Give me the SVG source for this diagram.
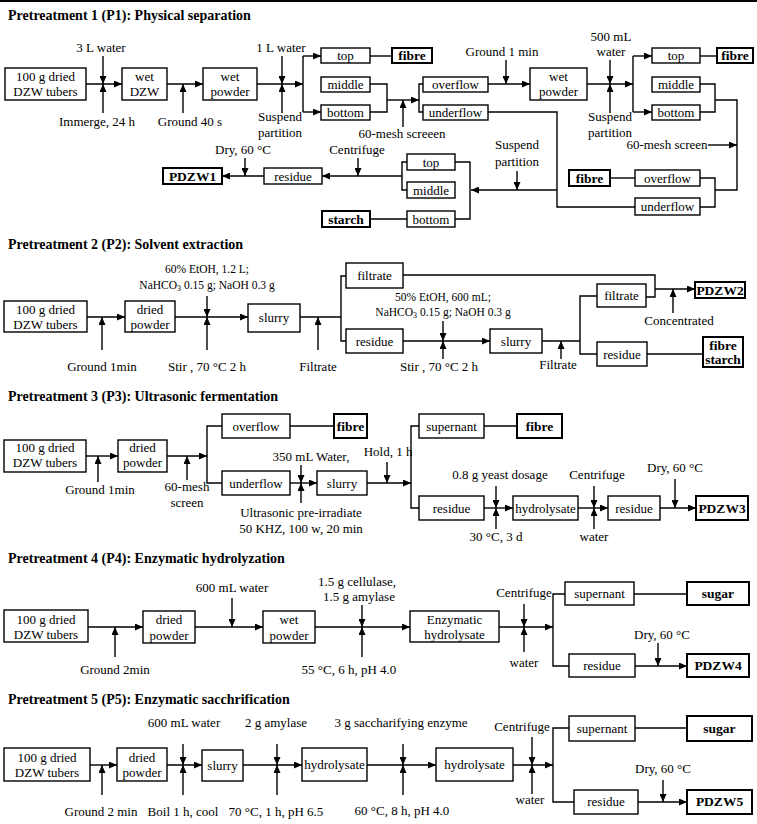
<svg xmlns="http://www.w3.org/2000/svg" width="757" height="824" viewBox="0 0 757 824">
<style>
.b{fill:#fff;stroke:#000;stroke-width:1.4}
.bb{fill:#fff;stroke:#000;stroke-width:2}
text{font-family:"Liberation Serif","Times New Roman",serif;font-size:13px;text-anchor:middle;fill:#000}
.tb{font-weight:bold;font-size:13.5px}
.ts{font-size:11.5px}
.h{font-size:14px;font-weight:bold;text-anchor:start}
.c{fill:none;stroke:#000;stroke-width:1.4}
.a{marker-end:url(#ah)}
</style>
<defs>
<marker id="ah" markerUnits="userSpaceOnUse" markerWidth="8" markerHeight="7" refX="8" refY="3.5" orient="auto">
<path d="M0,0 L8,3.5 L0,7 z" fill="#000"/>
</marker>
</defs>
<rect x="0" y="0" width="757" height="2" fill="#000"/>

<!-- ===== Titles ===== -->
<text class="h" x="8" y="20">Pretreatment 1 (P1): Physical separation</text>
<text class="h" x="8" y="249">Pretreatment 2 (P2): Solvent extraction</text>
<text class="h" x="8" y="401">Pretreatment 3 (P3): Ultrasonic  fermentation</text>
<text class="h" x="8" y="563">Pretreatment 4 (P4): Enzymatic hydrolyzation</text>
<text class="h" x="8" y="704">Pretreatment 5 (P5): Enzymatic  sacchrification</text>

<!-- ===== Connectors ===== -->
<g id="connectors">
<!-- P1 -->
<path class="c a" d="M86,84 H122"/>
<path class="c a" d="M103,56 V84"/>
<path class="c a" d="M103,113 V84"/>
<path class="c a" d="M167,84 H203"/>
<path class="c a" d="M183,113 V84"/>
<path class="c a" d="M257,84 H303"/>
<path class="c a" d="M282,56 V84"/>
<path class="c a" d="M282,113 V84"/>
<path class="c" d="M303,56 V112"/>
<path class="c a" d="M303,56 H321"/>
<path class="c a" d="M303,112 H321"/>
<path class="c" d="M370,56 H392"/>
<path class="c" d="M370,84 H387 V112 H370"/>
<path class="c a" d="M387,100 H419"/>
<path class="c a" d="M403,127 V100"/>
<path class="c" d="M423,84 H419 V112 H423"/>
<path class="c a" d="M488,84 H530"/>
<path class="c a" d="M506,60 V84"/>
<path class="c a" d="M587,84 H633"/>
<path class="c a" d="M610,60 V84"/>
<path class="c a" d="M610,113 V84"/>
<path class="c" d="M633,56 V112"/>
<path class="c a" d="M633,56 H652"/>
<path class="c a" d="M633,112 H652"/>
<path class="c" d="M700,56 H717"/>
<path class="c" d="M700,84 H715 V112 H700"/>
<path class="c" d="M715,100 H737 V190 H715"/>
<path class="c a" d="M708,145 H737"/>
<path class="c" d="M700,178 H715 V207 H700"/>
<path class="c" d="M610,178 H635"/>
<path class="c" d="M488,112 H557 V207 H635"/>
<path class="c a" d="M557,190 H471"/>
<path class="c a" d="M517,171 V190"/>
<path class="c" d="M455,162 H470 V219 H455"/>
<path class="c" d="M407,162 H402 V190 H407"/>
<path class="c a" d="M402,176 H322"/>
<path class="c a" d="M358,158 V176"/>
<path class="c" d="M370,219 H407"/>
<path class="c a" d="M264,176 H222"/>
<path class="c a" d="M245,158 V176"/>
<!-- P2 -->
<path class="c a" d="M87,317 H125"/>
<path class="c a" d="M102,350 V317"/>
<path class="c a" d="M175,317 H248"/>
<path class="c a" d="M207,296 V317"/>
<path class="c a" d="M207,350 V317"/>
<path class="c" d="M300,317 H341"/>
<path class="c a" d="M318,350 V317"/>
<path class="c" d="M346,276 H341 V341 H346"/>
<path class="c" d="M403,275 H655 V297 H646"/>
<path class="c a" d="M655,289 H695"/>
<path class="c a" d="M673,313 V289"/>
<path class="c a" d="M403,341 H490"/>
<path class="c a" d="M443,321 V341"/>
<path class="c a" d="M443,359 V341"/>
<path class="c" d="M542,341 H580"/>
<path class="c a" d="M561,359 V341"/>
<path class="c" d="M597,296 H580 V354 H597"/>
<path class="c" d="M647,354 H703"/>
<!-- P3 -->
<path class="c a" d="M86,456 H118"/>
<path class="c a" d="M98,482 V456"/>
<path class="c a" d="M167,456 H207"/>
<path class="c a" d="M187,480 V456"/>
<path class="c" d="M222,426 H207 V483 H222"/>
<path class="c" d="M290,426 H334"/>
<path class="c a" d="M290,483 H317"/>
<path class="c a" d="M301,465 V483"/>
<path class="c a" d="M301,503 V483"/>
<path class="c a" d="M367,483 H411"/>
<path class="c a" d="M387,462 V483"/>
<path class="c" d="M419,426 H411 V508 H419"/>
<path class="c" d="M484,426 H517"/>
<path class="c a" d="M484,508 H513"/>
<path class="c a" d="M496,486 V508"/>
<path class="c a" d="M496,529 V508"/>
<path class="c a" d="M578,508 H608"/>
<path class="c a" d="M594,486 V508"/>
<path class="c a" d="M594,529 V508"/>
<path class="c a" d="M660,508 H696"/>
<path class="c a" d="M675,479 V508"/>
<!-- P4 -->
<path class="c a" d="M88,627 H143"/>
<path class="c a" d="M115,657 V627"/>
<path class="c a" d="M195,627 H263"/>
<path class="c a" d="M232,598 V627"/>
<path class="c a" d="M315,627 H410"/>
<path class="c a" d="M362,605 V627"/>
<path class="c a" d="M362,657 V627"/>
<path class="c a" d="M499,627 H553"/>
<path class="c a" d="M524,604 V627"/>
<path class="c a" d="M524,652 V627"/>
<path class="c" d="M565,594 H553 V666 H569"/>
<path class="c" d="M634,594 H687"/>
<path class="c a" d="M635,666 H687"/>
<path class="c a" d="M658,643 V666"/>
<!-- P5 -->
<path class="c a" d="M90,765 H117"/>
<path class="c a" d="M102,795 V765"/>
<path class="c a" d="M167,765 H202"/>
<path class="c a" d="M183,744 V765"/>
<path class="c a" d="M183,795 V765"/>
<path class="c a" d="M243,765 H302"/>
<path class="c a" d="M277,744 V765"/>
<path class="c a" d="M277,795 V765"/>
<path class="c a" d="M367,765 H436"/>
<path class="c a" d="M403,744 V765"/>
<path class="c a" d="M403,795 V765"/>
<path class="c a" d="M513,765 H553"/>
<path class="c a" d="M532,737 V765"/>
<path class="c a" d="M532,794 V765"/>
<path class="c" d="M569,728 H553 V802 H574"/>
<path class="c" d="M635,728 H687"/>
<path class="c a" d="M638,802 H687"/>
<path class="c a" d="M663,780 V802"/>
</g>

<!-- ===== Labels ===== -->
<g id="labels">
<!-- P1 -->
<text x="101" y="52">3 L water</text>
<text x="97" y="126">Immerge, 24 h</text>
<text x="190" y="126">Ground 40 s</text>
<text x="281" y="52">1 L water</text>
<text x="280" y="121">Suspend</text>
<text x="280" y="137">partition</text>
<text x="402" y="138">60-mesh screeen</text>
<text x="502" y="56">Ground 1 min</text>
<text x="611" y="41">500 mL</text>
<text x="611" y="56">water</text>
<text x="610" y="121">Suspend</text>
<text x="610" y="137">partition</text>
<text x="667" y="149">60-mesh screen</text>
<text x="517" y="149">Suspend</text>
<text x="517" y="166">partition</text>
<text x="357" y="154">Centrifuge</text>
<text x="243" y="154">Dry, 60 °C</text>
<!-- P2 -->
<text x="102" y="371">Ground 1min</text>
<text class="ts" x="207" y="273">60% EtOH, 1.2  L;</text>
<text class="ts" x="207" y="289">NaHCO<tspan font-size="8" dy="2">3</tspan><tspan dy="-2"> 0.15 g; NaOH 0.3 g</tspan></text>
<text x="207" y="371">Stir , 70 °C  2 h</text>
<text x="318" y="371">Filtrate</text>
<text class="ts" x="443" y="301">50% EtOH, 600 mL;</text>
<text class="ts" x="443" y="316">NaHCO<tspan font-size="8" dy="2">3</tspan><tspan dy="-2"> 0.15 g; NaOH 0.3 g</tspan></text>
<text x="439" y="371">Stir , 70 °C  2 h</text>
<text x="558" y="369">Filtrate</text>
<text x="679" y="325">Concentrated</text>
<!-- P3 -->
<text x="100" y="494">Ground 1min</text>
<text x="187" y="491">60-mesh</text>
<text x="187" y="507">screen</text>
<text x="311" y="461">350 mL Water,</text>
<text x="301" y="517">Ultrasonic pre-irradiate</text>
<text x="301" y="533">50 KHZ, 100 w, 20 min</text>
<text x="388" y="456">Hold, 1 h</text>
<text x="500" y="479">0.8 g yeast dosage</text>
<text x="496" y="541">30 °C, 3 d</text>
<text x="597" y="479">Centrifuge</text>
<text x="594" y="541">water</text>
<text x="675" y="472">Dry, 60 °C</text>
<!-- P4 -->
<text x="115" y="674">Ground 2min</text>
<text x="232" y="592">600 mL water</text>
<text x="357" y="586">1.5 g cellulase,</text>
<text x="359" y="601">1.5 g amylase</text>
<text x="349" y="674">55 °C, 6 h, pH 4.0</text>
<text x="524" y="597">Centrifuge</text>
<text x="524" y="667">water</text>
<text x="662" y="639">Dry, 60 °C</text>
<!-- P5 -->
<text x="101" y="816">Ground 2 min</text>
<text x="184" y="727">600 mL water</text>
<text x="183" y="816">Boil 1 h, cool</text>
<text x="276" y="727">2 g amylase</text>
<text x="276" y="816">70 °C, 1 h, pH 6.5</text>
<text x="401" y="727">3 g saccharifying enzyme</text>
<text x="402" y="815">60 °C, 8 h, pH 4.0</text>
<text x="522" y="731">Centrifuge</text>
<text x="530" y="804">water</text>
<text x="663" y="773">Dry, 60 °C</text>
</g>

<!-- ===== P1 nodes ===== -->
<g id="p1-source"><rect class="b" x="5" y="68" width="81" height="32"/><text x="45.5" y="81">100 g dried</text><text x="45.5" y="96">DZW tubers</text></g>
<g id="p1-wetdzw"><rect class="b" x="122" y="68" width="45" height="32"/><text x="144.5" y="81">wet</text><text x="144.5" y="96">DZW</text></g>
<g id="p1-wetpowder"><rect class="b" x="203" y="68" width="54" height="32"/><text x="230" y="81">wet</text><text x="230" y="96">powder</text></g>
<g id="p1-top"><rect class="b" x="321" y="48" width="49" height="15"/><text x="345.5" y="60">top</text></g>
<g id="p1-middle"><rect class="b" x="321" y="77" width="49" height="15"/><text x="345.5" y="89">middle</text></g>
<g id="p1-bottom"><rect class="b" x="321" y="105" width="49" height="15"/><text x="345.5" y="117">bottom</text></g>
<g id="p1-fibre"><rect class="bb" x="392" y="48" width="40" height="15"/><text class="tb" x="412" y="60">fibre</text></g>
<g id="p1-overflow"><rect class="b" x="423" y="77" width="65" height="15"/><text x="455.5" y="89">overflow</text></g>
<g id="p1-underflow"><rect class="b" x="423" y="105" width="65" height="15"/><text x="455.5" y="117">underflow</text></g>
<g id="p1-wetpowder2"><rect class="b" x="530" y="68" width="57" height="32"/><text x="558.5" y="81">wet</text><text x="558.5" y="96">powder</text></g>
<g id="p1-top2"><rect class="b" x="652" y="48" width="48" height="15"/><text x="676" y="60">top</text></g>
<g id="p1-fibre2"><rect class="bb" x="717" y="48" width="36" height="15"/><text class="tb" x="735" y="60">fibre</text></g>
<g id="p1-middle2"><rect class="b" x="652" y="77" width="48" height="15"/><text x="676" y="89">middle</text></g>
<g id="p1-bottom2"><rect class="b" x="652" y="105" width="48" height="15"/><text x="676" y="117">bottom</text></g>
<g id="p1-fibre3"><rect class="bb" x="569" y="170" width="41" height="16"/><text class="tb" x="589.5" y="182.5">fibre</text></g>
<g id="p1-overflow2"><rect class="b" x="635" y="170" width="65" height="16"/><text x="667.5" y="182.5">overflow</text></g>
<g id="p1-underflow2"><rect class="b" x="635" y="198" width="65" height="17"/><text x="667.5" y="211">underflow</text></g>
<g id="p1-top3"><rect class="b" x="407" y="154" width="48" height="16"/><text x="431" y="166.5">top</text></g>
<g id="p1-middle3"><rect class="b" x="407" y="182" width="48" height="16"/><text x="431" y="194.5">middle</text></g>
<g id="p1-bottom3"><rect class="b" x="407" y="211" width="48" height="16"/><text x="431" y="223.5">bottom</text></g>
<g id="p1-starch"><rect class="bb" x="322" y="211" width="48" height="16"/><text class="tb" x="346" y="223.5">starch</text></g>
<g id="p1-residue"><rect class="b" x="264" y="168" width="58" height="16"/><text x="293" y="180.5">residue</text></g>
<g id="p1-pdzw1"><rect class="bb" x="163" y="168" width="59" height="16"/><text class="tb" x="192.5" y="180.5">PDZW1</text></g>

<!-- ===== P2 nodes ===== -->
<g id="p2-source"><rect class="b" x="4" y="301" width="83" height="31"/><text x="45.5" y="314">100 g dried</text><text x="45.5" y="328.5">DZW tubers</text></g>
<g id="p2-dried"><rect class="b" x="125" y="301" width="50" height="31"/><text x="150" y="314">dried</text><text x="150" y="328.5">powder</text></g>
<g id="p2-slurry"><rect class="b" x="248" y="304" width="52" height="28"/><text x="274" y="322">slurry</text></g>
<g id="p2-filtrate"><rect class="b" x="346" y="263" width="57" height="25"/><text x="374.5" y="280">filtrate</text></g>
<g id="p2-residue"><rect class="b" x="346" y="329" width="57" height="24"/><text x="374.5" y="345.5">residue</text></g>
<g id="p2-slurry2"><rect class="b" x="490" y="329" width="52" height="24"/><text x="516" y="345.5">slurry</text></g>
<g id="p2-filtrate2"><rect class="b" x="597" y="284" width="49" height="23"/><text x="621.5" y="300">filtrate</text></g>
<g id="p2-residue2"><rect class="b" x="597" y="342" width="50" height="24"/><text x="622" y="358.5">residue</text></g>
<g id="p2-pdzw2"><rect class="bb" x="695" y="282" width="50" height="16"/><text class="tb" x="720" y="294.5">PDZW2</text></g>
<g id="p2-fibrestarch"><rect class="bb" x="703" y="337" width="40" height="30"/><text class="tb" x="723" y="349.5">fibre</text><text class="tb" x="723" y="364">starch</text></g>

<!-- ===== P3 nodes ===== -->
<g id="p3-source"><rect class="b" x="4" y="440" width="82" height="32"/><text x="45" y="451.5">100 g dried</text><text x="45" y="466.5">DZW tubers</text></g>
<g id="p3-dried"><rect class="b" x="118" y="440" width="49" height="32"/><text x="142.5" y="451.5">dried</text><text x="142.5" y="466.5">powder</text></g>
<g id="p3-overflow"><rect class="b" x="222" y="414" width="68" height="24"/><text x="256" y="430.5">overflow</text></g>
<g id="p3-underflow"><rect class="b" x="222" y="471" width="68" height="24"/><text x="256" y="487.5">underflow</text></g>
<g id="p3-fibre"><rect class="bb" x="334" y="414" width="33" height="24"/><text class="tb" x="350.5" y="430.5">fibre</text></g>
<g id="p3-slurry"><rect class="b" x="317" y="471" width="50" height="24"/><text x="342" y="487.5">slurry</text></g>
<g id="p3-supernant"><rect class="b" x="419" y="414" width="65" height="24"/><text x="451.5" y="430.5">supernant</text></g>
<g id="p3-fibre2"><rect class="bb" x="517" y="414" width="45" height="24"/><text class="tb" x="539.5" y="430.5">fibre</text></g>
<g id="p3-residue"><rect class="b" x="419" y="496" width="65" height="24"/><text x="451.5" y="512.5">residue</text></g>
<g id="p3-hydrolysate"><rect class="b" x="513" y="496" width="65" height="24"/><text x="545.5" y="512.5">hydrolysate</text></g>
<g id="p3-residue2"><rect class="b" x="608" y="496" width="52" height="24"/><text x="634" y="512.5">residue</text></g>
<g id="p3-pdzw3"><rect class="bb" x="696" y="496" width="52" height="24"/><text class="tb" x="722" y="512.5">PDZW3</text></g>

<!-- ===== P4 nodes ===== -->
<g id="p4-source"><rect class="b" x="4" y="610" width="84" height="32"/><text x="46" y="623.5">100 g dried</text><text x="46" y="639">DZW tubers</text></g>
<g id="p4-dried"><rect class="b" x="143" y="611" width="52" height="32"/><text x="169" y="624">dried</text><text x="169" y="639.5">powder</text></g>
<g id="p4-wet"><rect class="b" x="263" y="611" width="52" height="32"/><text x="289" y="624">wet</text><text x="289" y="639.5">powder</text></g>
<g id="p4-enzymatic"><rect class="b" x="410" y="611" width="89" height="31"/><text x="454.5" y="624">Enzymatic</text><text x="454.5" y="639">hydrolysate</text></g>
<g id="p4-supernant"><rect class="b" x="565" y="582" width="69" height="23"/><text x="599.5" y="598">supernant</text></g>
<g id="p4-sugar"><rect class="bb" x="687" y="582" width="62" height="23"/><text class="tb" x="718" y="598">sugar</text></g>
<g id="p4-residue"><rect class="b" x="569" y="654" width="66" height="23"/><text x="602" y="670">residue</text></g>
<g id="p4-pdzw4"><rect class="bb" x="687" y="654" width="62" height="23"/><text class="tb" x="718" y="670">PDZW4</text></g>

<!-- ===== P5 nodes ===== -->
<g id="p5-source"><rect class="b" x="4" y="748" width="86" height="33"/><text x="47" y="761.5">100 g dried</text><text x="47" y="776.5">DZW tubers</text></g>
<g id="p5-dried"><rect class="b" x="117" y="748" width="50" height="33"/><text x="142" y="761.5">dried</text><text x="142" y="776.5">powder</text></g>
<g id="p5-slurry"><rect class="b" x="202" y="750" width="41" height="31"/><text x="222.5" y="769.5">slurry</text></g>
<g id="p5-hydrolysate"><rect class="b" x="302" y="748" width="65" height="33"/><text x="334.5" y="769">hydrolysate</text></g>
<g id="p5-hydrolysate2"><rect class="b" x="436" y="748" width="77" height="33"/><text x="474.5" y="769">hydrolysate</text></g>
<g id="p5-supernant"><rect class="b" x="569" y="716" width="66" height="25"/><text x="602" y="732.5">supernant</text></g>
<g id="p5-sugar"><rect class="bb" x="687" y="716" width="65" height="25"/><text class="tb" x="719.5" y="732.5">sugar</text></g>
<g id="p5-residue"><rect class="b" x="574" y="790" width="64" height="24"/><text x="606" y="806">residue</text></g>
<g id="p5-pdzw5"><rect class="bb" x="687" y="790" width="65" height="24"/><text class="tb" x="719.5" y="806">PDZW5</text></g>
</svg>
